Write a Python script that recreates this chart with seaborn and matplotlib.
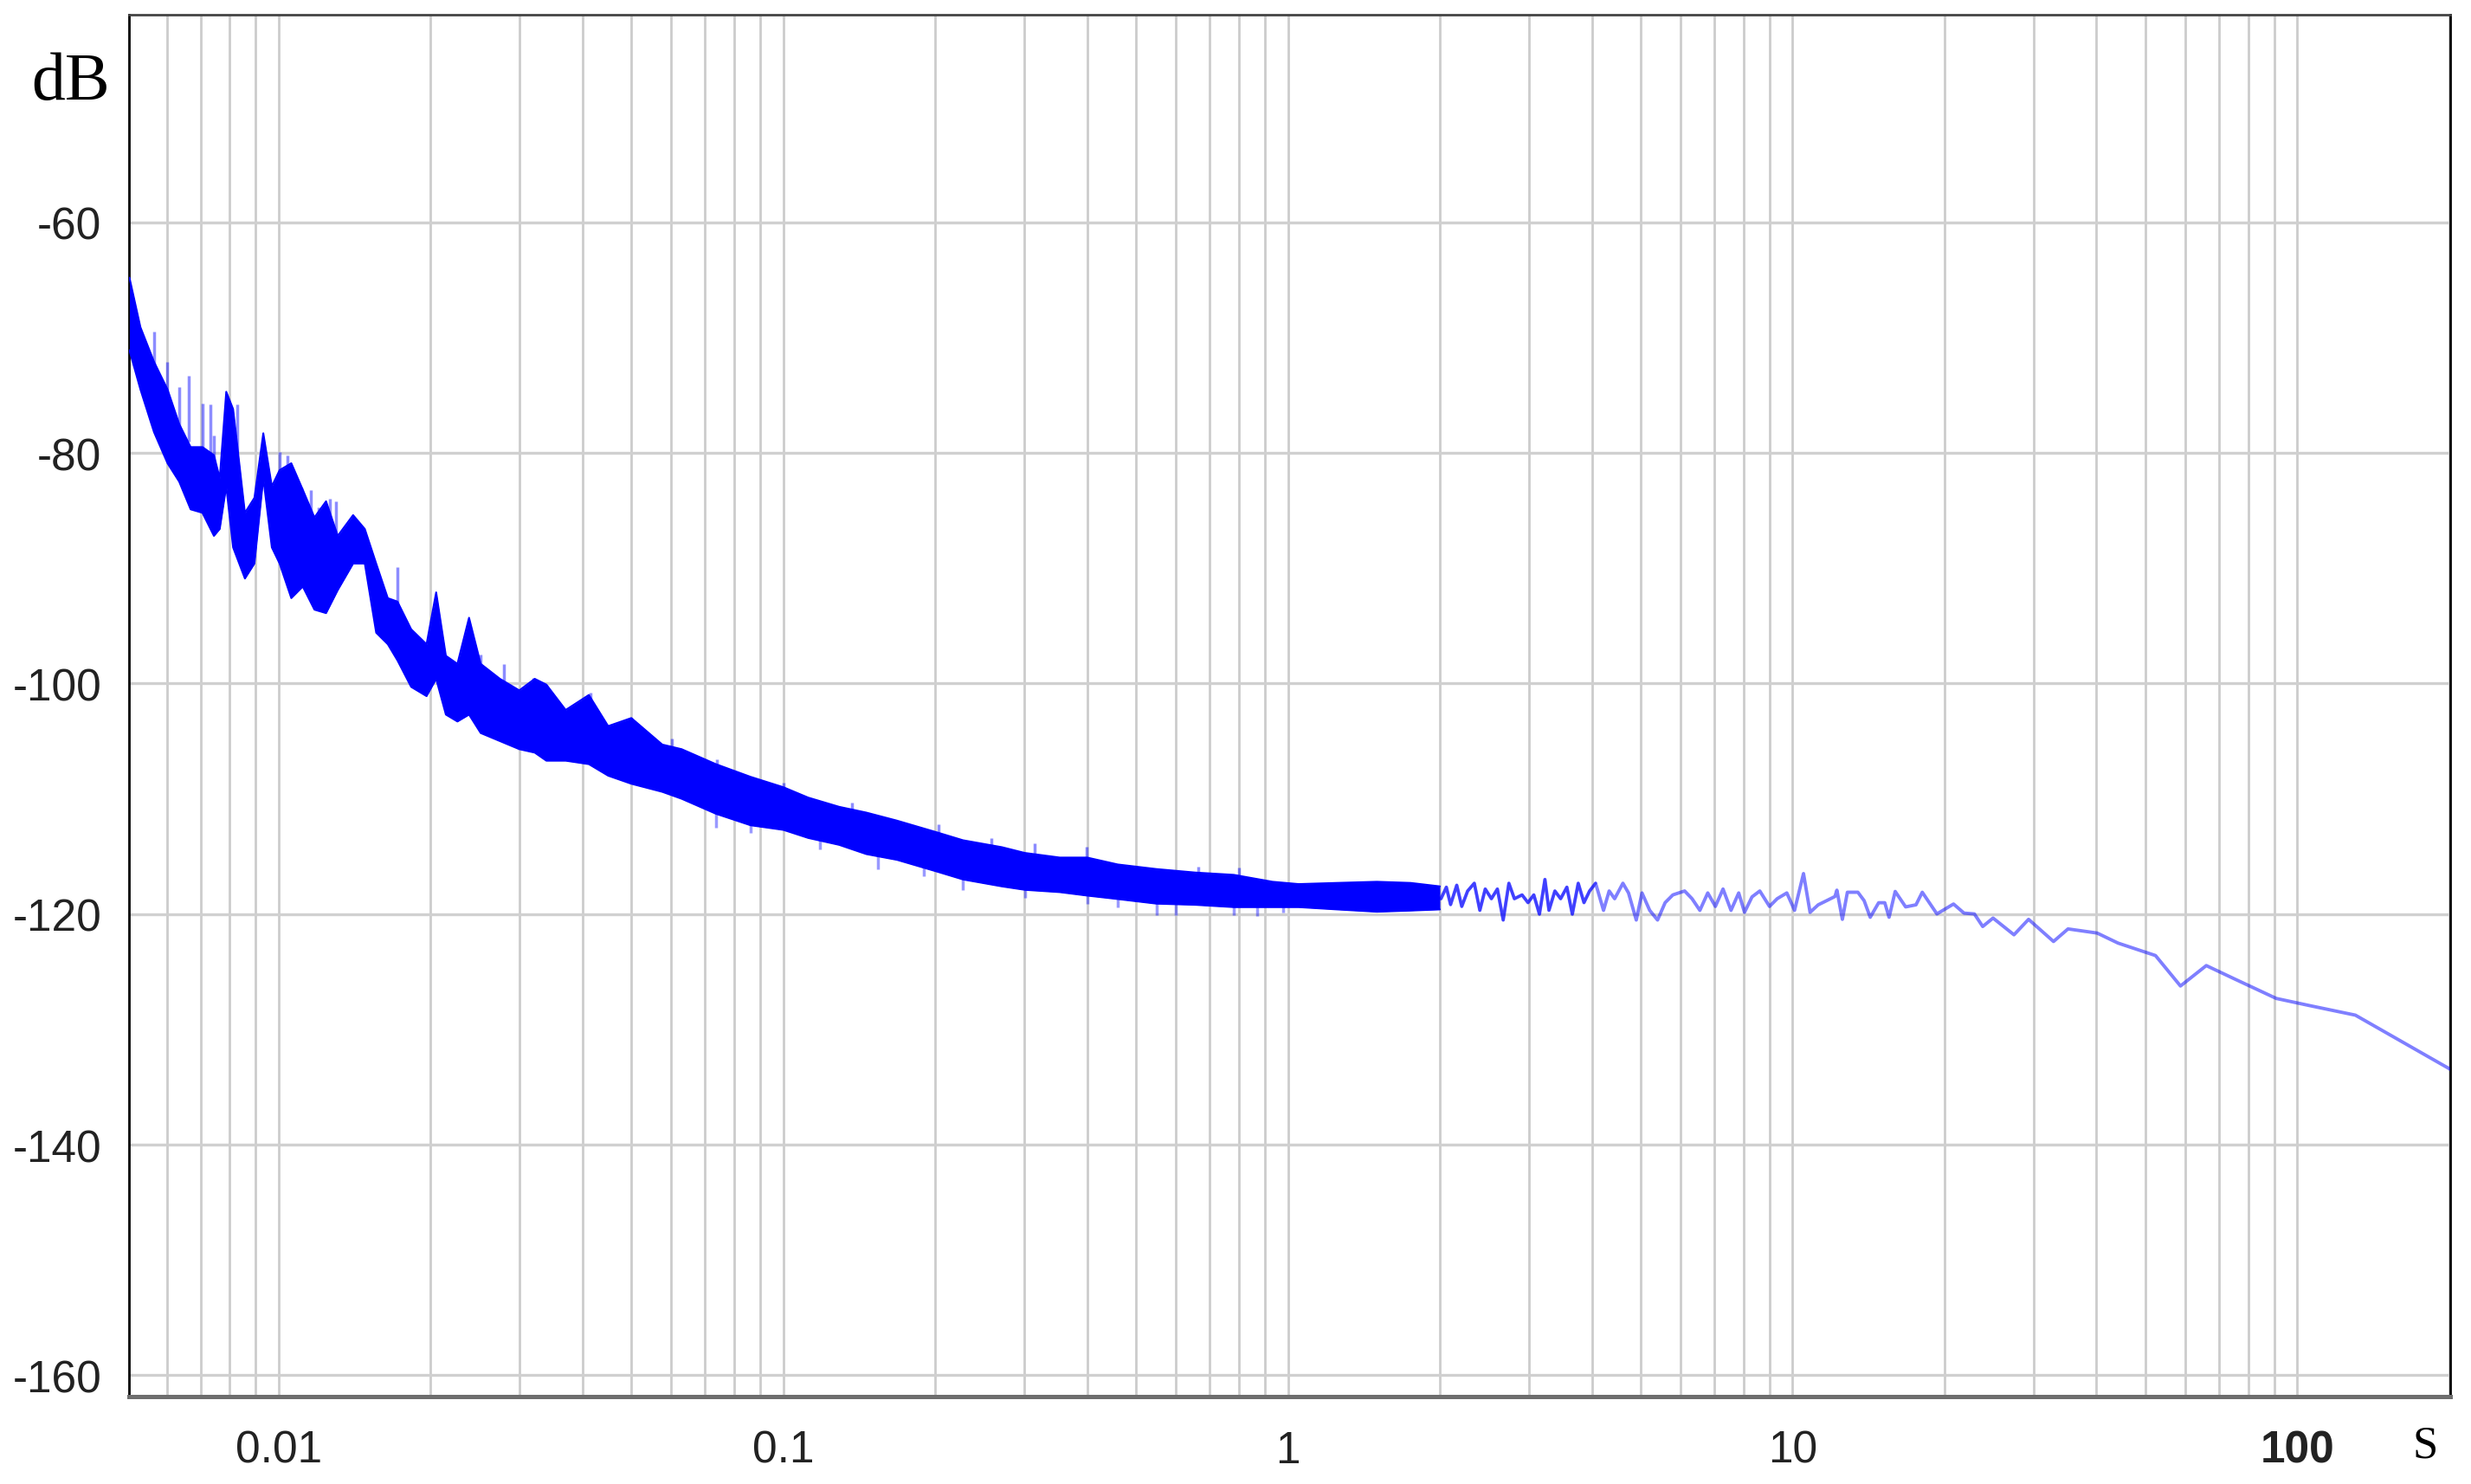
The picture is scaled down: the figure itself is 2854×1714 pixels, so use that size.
import numpy as np
import pandas as pd
import seaborn as sns
import matplotlib.pyplot as plt
from matplotlib.ticker import FixedLocator, LogLocator, NullFormatter, FixedFormatter

# dense part of the spectrum: upper / lower edge of the blue band (s, dB)
band_x = [0.00506, 0.00532, 0.00566, 0.00602, 0.00635, 0.00669, 0.00706, 0.00744,
          0.00764, 0.00787, 0.00812, 0.00857, 0.00895, 0.00932, 0.00969, 0.01004,
          0.01059, 0.01116, 0.01177, 0.01241, 0.01309, 0.01404, 0.01481, 0.01560,
          0.01645, 0.01719, 0.01830, 0.01963, 0.02051, 0.02144, 0.02260, 0.02383,
          0.02513, 0.02744, 0.02997, 0.03216, 0.03391, 0.03704, 0.04117, 0.04496,
          0.04997, 0.05755, 0.06286, 0.0735, 0.0861, 0.100, 0.112, 0.129, 0.146,
          0.168, 0.201, 0.227, 0.271, 0.301, 0.353, 0.400, 0.460, 0.549, 0.655,
          0.781, 0.932, 1.05, 1.25, 1.5, 1.75, 2.0]
band_top = [-64.8, -69.1, -72.1, -74.5, -77.5, -79.5, -79.5, -80.2,
            -82.2, -74.7, -76.2, -85.2, -83.9, -78.3, -82.9, -81.5,
            -80.9, -83.2, -85.6, -84.2, -87.2, -85.4, -86.6, -89.6,
            -92.6, -92.9, -95.3, -96.6, -92.1, -97.6, -98.3, -94.3,
            -98.3, -99.6, -100.6, -99.6, -100.1, -102.3, -101.0, -103.7,
            -103.0, -105.3, -105.7, -107.0, -108.1, -109.0, -109.9, -110.7, -111.2,
            -111.9, -112.9, -113.6, -114.2, -114.7, -115.1, -115.1, -115.7, -116.1, -116.4,
            -116.6, -117.2, -117.4, -117.3, -117.2, -117.3, -117.6]
band_bottom = [-71.1, -74.5, -78.2, -80.9, -82.5, -84.9, -85.2, -87.2,
               -86.6, -82.9, -88.2, -90.9, -89.6, -82.2, -88.2, -89.6,
               -92.6, -91.6, -93.6, -93.9, -91.9, -89.6, -89.6, -95.6,
               -96.6, -98.0, -100.3, -101.1, -99.6, -102.7, -103.3, -102.7,
               -104.3, -105.0, -105.7, -106.0, -106.7, -106.7, -107.0, -108.0,
               -108.7, -109.4, -110.0, -111.3, -112.3, -112.7, -113.4, -114.0, -114.8,
               -115.3, -116.3, -117.0, -117.6, -117.9, -118.1, -118.4, -118.7, -119.1, -119.2,
               -119.4, -119.4, -119.4, -119.6, -119.8, -119.7, -119.6]

# faint single spikes sticking out of the band
spike_x = [0.00566, 0.00602, 0.00635, 0.00664, 0.00706, 0.00731, 0.00744, 0.00827,
           0.01004, 0.0104, 0.01107, 0.01157, 0.01198, 0.01262, 0.01297, 0.01719,
           0.02513, 0.02793, 0.03193, 0.03391, 0.04152, 0.04997, 0.06013,
           0.0737, 0.1000, 0.1370, 0.2030, 0.2580, 0.3150, 0.3990, 0.6650, 0.8000]
spike_top = [-69.5, -72.1, -74.3, -73.3, -75.7, -75.8, -78.5, -75.8,
             -79.9, -80.2, -83.0, -83.2, -84.7, -84.0, -84.2, -89.9,
             -97.5, -98.3, -99.5, -100.1, -100.8, -103.0, -104.8,
             -106.6, -108.6, -110.3, -112.2, -113.4, -113.9, -114.2, -115.9, -116.0]
spike_base = [-73.0, -75.0, -78.0, -79.0, -80.0, -81.0, -81.0, -80.0,
              -83.0, -83.0, -85.0, -86.0, -86.0, -86.0, -87.0, -94.0,
              -99.5, -100.5, -101.5, -101.5, -102.5, -104.5, -106.0,
              -108.0, -110.0, -111.5, -113.5, -114.5, -115.0, -115.5, -117.0, -117.0]
dip_x = [0.0735, 0.0861, 0.1180, 0.1540, 0.1900, 0.2270, 0.3010, 0.4000,
         0.4600, 0.5490, 0.6000, 0.7810, 0.8700, 0.9800]
dip_low = [-112.5, -113.0, -114.4, -116.1, -116.7, -117.9, -118.6, -119.1,
           -119.4, -120.1, -120.1, -120.1, -120.2, -119.9]
dip_base = [-110.5, -111.5, -113.0, -114.5, -115.5, -116.5, -117.3, -118.0,
            -118.3, -118.8, -118.9, -119.0, -119.1, -119.0]

# sparse part of the trace above 2 s
trace_x = [2.01, 2.06, 2.10, 2.16, 2.21, 2.27, 2.34, 2.40, 2.46, 2.53, 2.60, 2.67,
           2.74, 2.81, 2.91, 2.99, 3.07, 3.15, 3.23, 3.29, 3.38, 3.47, 3.57, 3.66,
           3.76, 3.86, 3.96, 4.07, 4.22, 4.33, 4.44, 4.61, 4.73, 4.90, 5.03, 5.21,
           5.40, 5.59, 5.79, 6.11, 6.32, 6.55, 6.79, 7.03, 7.28, 7.55, 7.82, 8.03,
           8.31, 8.61, 9.00, 9.32, 9.74, 10.09, 10.51, 10.83,
           11.24, 11.68, 12.13, 12.24, 12.55, 12.84, 13.47, 13.86, 14.25, 14.81,
           15.23, 15.53, 15.97, 16.75, 17.56, 18.07, 19.32, 20.84, 21.86, 22.92,
           23.81, 24.96, 27.46, 29.35, 32.89, 35.14, 40.14, 44.15, 52.38, 58.70,
           66.04, 75.14, 90.88, 105.8, 130.4, 201.0]
trace_db = [-118.67, -117.67, -119.18, -117.50, -119.34, -118.00, -117.33, -119.68,
            -117.83, -118.67, -117.83, -120.52, -117.33, -118.67, -118.34, -119.01,
            -118.34, -120.01, -117.00, -119.68, -118.00, -118.67, -117.67, -120.01,
            -117.33, -119.01, -118.00, -117.33, -119.68, -118.00, -118.67, -117.33,
            -118.17, -120.52, -118.17, -119.68, -120.52, -119.01, -118.34, -118.00,
            -118.67, -119.68, -118.17, -119.34, -117.83, -119.68, -118.17, -119.85,
            -118.51, -118.00, -119.34, -118.67, -118.17, -119.68, -116.49, -119.85,
            -119.20, -118.84, -118.48, -117.93, -120.46, -118.11, -118.11, -118.84,
            -120.28, -119.02, -119.02, -120.28, -118.04, -119.38, -119.20, -118.11,
            -119.99, -119.13, -119.92, -119.99, -121.08, -120.35, -121.80, -120.46,
            -122.38, -121.29, -121.65, -122.52, -123.60, -126.24, -124.47, -125.63,
            -127.32, -127.94, -128.77, -133.46]

y_ticks = [-60, -80, -100, -120, -140, -160]
x_major = [0.01, 0.1, 1, 10, 100]
x_labels = ["0.01", "0.1", "1", "10", "100"]

sns.set_style("white")
plt.rcParams['font.family'] = ['Liberation Sans', 'DejaVu Sans']

fig = plt.figure(figsize=(28.54, 17.15), dpi=100)
ax = fig.add_axes([0.05221, 0.05889, 0.93938, 0.93061])
ax.set_xscale('log')

band = pd.DataFrame({'t': band_x, 'top': band_top, 'bottom': band_bottom})
ax.fill_between(band['t'], band['bottom'], band['top'], color='#0000ff', lw=0, zorder=3)
sns.lineplot(data=band, x='t', y='top', ax=ax, color='#0000ff', lw=1.5,
             estimator=None, sort=False, zorder=3)
sns.lineplot(data=band, x='t', y='bottom', ax=ax, color='#0000ff', lw=1.5,
             estimator=None, sort=False, zorder=3)
ax.vlines(spike_x, spike_base, spike_top, color='#0000ff', alpha=0.45, lw=2.5, zorder=3)
ax.vlines(dip_x, dip_base, dip_low, color='#0000ff', alpha=0.4, lw=2.5, zorder=3)

trace = pd.DataFrame({'t': trace_x, 'db': trace_db})
sns.lineplot(data=trace, x='t', y='db', ax=ax, color='#0000ff', alpha=0.5, lw=2.8,
             estimator=None, sort=False, zorder=3)
# the 2-4 s stretch is much denser in the original, so it reads darker
near = trace[trace['t'] < 4.1]
sns.lineplot(data=near, x='t', y='db', ax=ax, color='#0000ff', alpha=0.5, lw=2.4,
             estimator=None, sort=False, zorder=3)

ax.set_xlim(0.00505, 201)
ax.set_ylim(-161.85, -42)
ax.set_xlabel('')
ax.set_ylabel('')

ax.xaxis.set_major_locator(FixedLocator(x_major))
ax.xaxis.set_major_formatter(FixedFormatter(x_labels))
ax.xaxis.set_minor_locator(LogLocator(base=10, subs=range(2, 10), numticks=20))
ax.xaxis.set_minor_formatter(NullFormatter())
ax.set_yticks(y_ticks)
ax.set_yticklabels([str(v) for v in y_ticks])

ax.grid(which='both', axis='x', color='#cccccc', lw=2.0, zorder=0)
ax.grid(which='major', axis='y', color='#d0d0d0', lw=2.4, zorder=0)
ax.set_axisbelow(True)

ax.tick_params(axis='x', which='both', direction='out', length=10, width=1.5,
               color='black', labelsize=37, labelcolor='#222222', pad=17)
ax.tick_params(axis='y', which='major', direction='out', length=8, width=2.5,
               color='#555555', labelsize=37, labelcolor='#222222', pad=15)
ax.get_xticklabels()[-1].set_fontweight('bold')

for side in ['left', 'right']:
    ax.spines[side].set_color('black')
    ax.spines[side].set_linewidth(2)
ax.spines['top'].set_color('#444444')
ax.spines['top'].set_linewidth(2)
ax.spines['bottom'].set_color('#6e6e6e')
ax.spines['bottom'].set_linewidth(3.6)

fig.text(0.0287, 0.944, 'dB', family='Liberation Serif', fontsize=56,
         ha='center', va='center', color='black')
fig.text(0.9814, 0.0257, 'S', family='Liberation Serif', fontsize=38,
         ha='center', va='center', color='black')

fig.savefig('out.png', dpi=100, facecolor='white')
